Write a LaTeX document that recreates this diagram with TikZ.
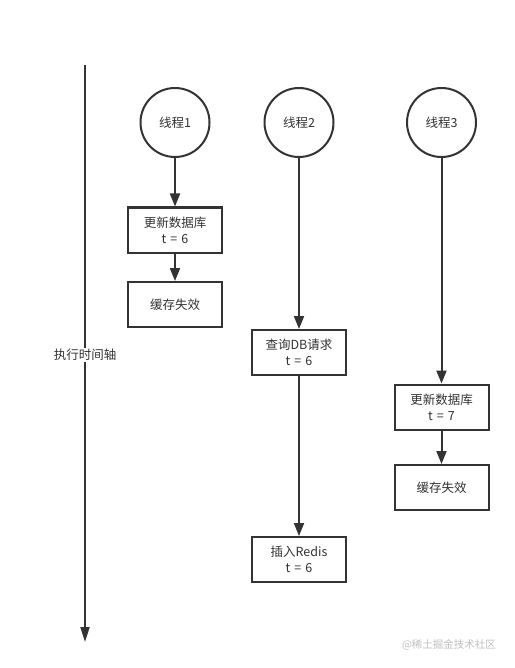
\documentclass[tikz,border=0pt]{standalone}
\usepackage{fontspec}
\setmainfont{Noto Sans CJK SC}
\usetikzlibrary{arrows.meta}
\definecolor{ln}{HTML}{333333}
\definecolor{wm}{HTML}{C0C0C0}
\newcommand{\tsp}{\hspace{4pt}}
\tikzset{
  thread/.style={circle,draw=ln,line width=2pt,minimum size=69pt,inner sep=0pt,font=\fontsize{12.5}{14}\selectfont,text=ln},
  stepbox/.style={rectangle,draw=ln,line width=2pt,minimum width=94pt,minimum height=45pt,inner sep=0pt,align=center,font=\fontsize{12.5}{16}\selectfont,text=ln},
  conn/.style={draw=ln,line width=2pt,-{Triangle[width=10pt,length=13pt]}},
}
\begin{document}
\begin{tikzpicture}[x=1pt,y=-1pt]
\path[use as bounding box,fill=white] (0,0) rectangle (514,668);
\coordinate (axtop) at (85,65);
\coordinate (axbot) at (85,642);
\draw[draw=ln,line width=2pt,-{Triangle[width=9pt,length=15pt]}] (axtop) -- (axbot);
\node[fill=white,inner sep=1pt,font=\fontsize{12.5}{14}\selectfont,text=ln] (axlabel) at (85,355) {执行时间轴};

\node[thread] (t1) at (175,122.5) {线程1};
\node[thread] (t2) at (299,122.5) {线程2};
\node[thread] (t3) at (441.5,122.5) {线程3};

\node[stepbox] (a1) at (175,230) {更新数据库\\t\tsp=\tsp6};
\node[stepbox] (a2) at (175,304.5) {缓存失效};
\node[stepbox] (b1) at (299,352.5) {查询DB请求\\t\tsp=\tsp6};
\node[stepbox] (b2) at (299,559.5) {插入Redis\\t\tsp=\tsp6};
\node[stepbox] (c1) at (441.5,407) {更新数据库\\t\tsp=\tsp7};
\node[stepbox] (c2) at (441.5,487.5) {缓存失效};

\draw[conn] (t1) -- (a1);
\draw[conn] (a1) -- (a2);
\draw[conn] (t2) -- (b1);
\draw[conn] (b1) -- (b2);
\draw[conn] (t3) -- (c1);
\draw[conn] (c1) -- (c2);

\node[font=\fontsize{10.5}{12}\selectfont,text=wm] (wmark) at (449,645) {@稀土掘金技术社区};
\end{tikzpicture}
\end{document}
